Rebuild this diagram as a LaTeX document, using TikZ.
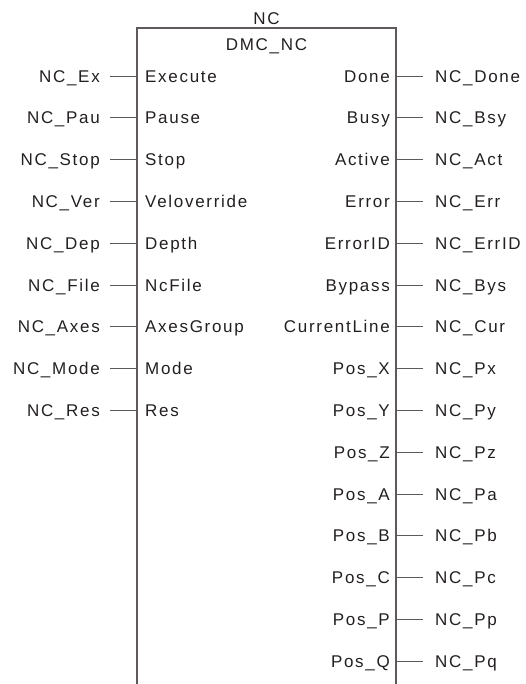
\documentclass[tikz,border=0pt]{standalone}
\usepackage{fontspec}
\setmainfont{Liberation Sans}[LetterSpace=10]
\usepackage{tikz}
\usetikzlibrary{positioning}
\definecolor{fbline}{RGB}{95,90,90}
\definecolor{fbtext}{RGB}{35,31,32}
\tikzset{
  fbtxt/.style ={font=\fontsize{17}{20}\selectfont, text=fbtext,
                 text height=12.2pt, text depth=0pt, inner ysep=0pt},
  fbinL/.style ={fbtxt, anchor=west, inner xsep=8pt},
  fbinR/.style ={fbtxt, anchor=east, inner xsep=6pt},
  fboutL/.style={fbtxt, anchor=east, inner xsep=10pt},
  fboutR/.style={fbtxt, anchor=west, inner xsep=12pt},
  fbwire/.style={line width=0.9pt, fbline},
  fbframe/.style={line width=1.1pt, fbline},
}

\begin{document}
\begin{tikzpicture}[x=1pt,y=-1pt]
  \useasboundingbox (0,0) rectangle (526,684);
  % function block frame, open at the bottom
  \coordinate (boxTL) at (137,28);
  \coordinate (boxTR) at (396,28);
  \coordinate (boxBL) at (137,684);
  \coordinate (boxBR) at (396,684);
  \draw[fbframe] (boxBL) -- (boxTL) -- (boxTR) -- (boxBR);
  \node[fbtxt] (inst) at (266.5,18.5) {NC};
  \node[fbtxt, below=13.8pt of inst] (fbname) {DMC\_NC};
  % inputs
  \foreach \i/\pin/\var in {0/Execute/NC\_Ex,1/Pause/NC\_Pau,2/Stop/NC\_Stop,
      3/Veloverride/NC\_Ver,4/Depth/NC\_Dep,5/NcFile/NC\_File,
      6/AxesGroup/NC\_Axes,7/Mode/NC\_Mode,8/Res/NC\_Res} {
    \node[fbinL]  (inL\i)  at (137,{76+41.8*\i}) {\pin};
    \node[fboutL] (outL\i) at (110,{76+41.8*\i}) {\var};
    \draw[fbwire] (outL\i) -- (inL\i);
  }
  % outputs
  \foreach \i/\pin/\var in {0/Done/NC\_Done,1/Busy/NC\_Bsy,2/Active/NC\_Act,
      3/Error/NC\_Err,4/ErrorID/NC\_ErrID,5/Bypass/NC\_Bys,
      6/CurrentLine/NC\_Cur,7/Pos\_X/NC\_Px,8/Pos\_Y/NC\_Py,9/Pos\_Z/NC\_Pz,
      10/Pos\_A/NC\_Pa,11/Pos\_B/NC\_Pb,12/Pos\_C/NC\_Pc,13/Pos\_P/NC\_Pp,
      14/Pos\_Q/NC\_Pq} {
    \node[fbinR]  (inR\i)  at (396,{76+41.8*\i}) {\pin};
    \node[fboutR] (outR\i) at (423,{76+41.8*\i}) {\var};
    \draw[fbwire] (inR\i) -- (outR\i);
  }
\end{tikzpicture}
\end{document}
